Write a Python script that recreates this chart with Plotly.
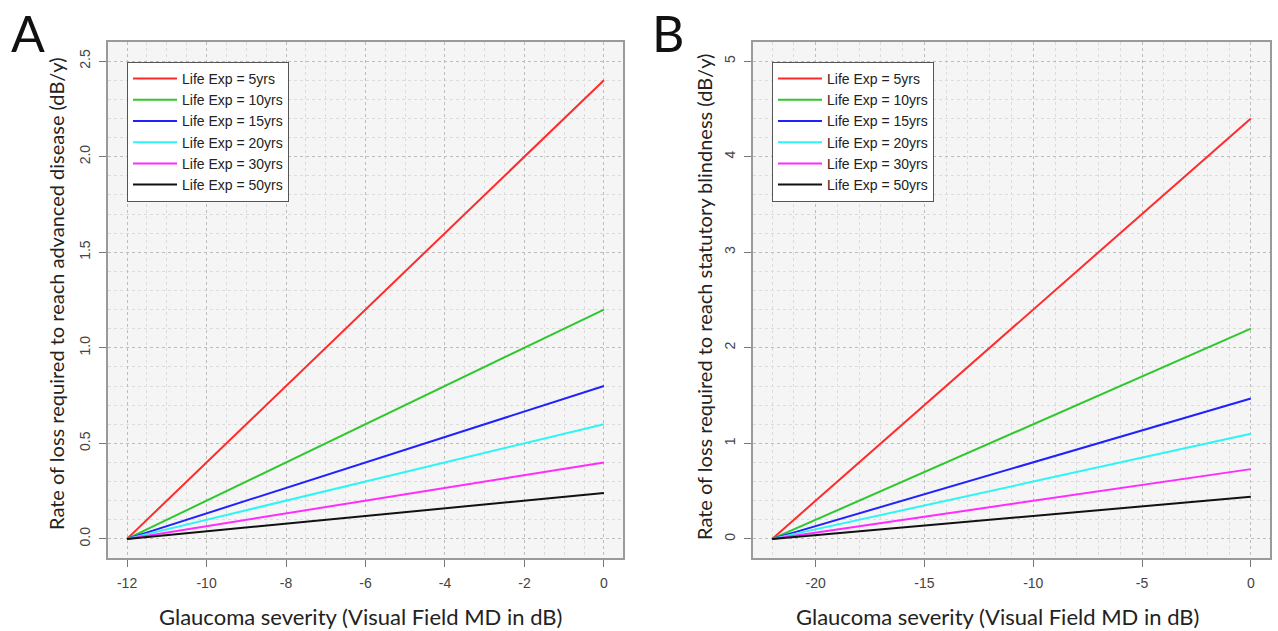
import plotly.graph_objects as go

W, H = 1278, 631

# ---- data ----
life_exp_labels = ["Life Exp = 5yrs", "Life Exp = 10yrs", "Life Exp = 15yrs",
                   "Life Exp = 20yrs", "Life Exp = 30yrs", "Life Exp = 50yrs"]
colors = ["#ff2b2b", "#2ec82e", "#2121ff", "#2ef5f5", "#ff2bff", "#111111"]

# Panel A: MD from -12 to 0
md_A = [-12, 0]
rate_A_end = [2.4, 1.2, 0.8, 0.6, 0.4, 0.24]
# Panel B: MD from -22 to 0
md_B = [-22, 0]
rate_B_end = [4.4, 2.2, 1.47, 1.1, 0.73, 0.44]

xticks_A = [-12, -10, -8, -6, -4, -2, 0]
xtick_text_A = ["-12", "-10", "-8", "-6", "-4", "-2", "0"]
yticks_A = [0.0, 0.5, 1.0, 1.5, 2.0, 2.5]
ytick_text_A = ["0.0", "0.5", "1.0", "1.5", "2.0", "2.5"]
xticks_B = [-20, -15, -10, -5, 0]
xtick_text_B = ["-20", "-15", "-10", "-5", "0"]
yticks_B = [0, 1, 2, 3, 4, 5]
ytick_text_B = ["0", "1", "2", "3", "4", "5"]

ytitle_A = "Rate of loss required to reach advanced disease (dB/y)"
ytitle_B = "Rate of loss required to reach statutory blindness (dB/y)"
xtitle = "Glaucoma severity (Visual Field MD in dB)"

fig = go.Figure()
for lab, col, v in zip(life_exp_labels, colors, rate_A_end):
    fig.add_trace(go.Scatter(x=md_A, y=[0, v], mode="lines", name=lab,
                             line=dict(color=col, width=2), xaxis="x", yaxis="y",
                             legend="legend"))
for lab, col, v in zip(life_exp_labels, colors, rate_B_end):
    fig.add_trace(go.Scatter(x=md_B, y=[0, v], mode="lines", name=lab,
                             line=dict(color=col, width=2), xaxis="x2", yaxis="y2",
                             legend="legend2"))

def px_x(p):
    return p / W

def px_y(p):
    return 1 - p / H

tickfont = dict(family="Liberation Sans, Arial, sans-serif", size=14, color="#444444")

def axis_common():
    return dict(showline=True, mirror=True, linecolor="#9a9a9a", linewidth=1.5,
                ticks="outside", ticklen=7, tickcolor="#777777", tickwidth=1,
                showgrid=True, gridcolor="#bdbdbd", griddash="dot", gridwidth=1,
                zeroline=False, tickfont=tickfont, fixedrange=True)

def minor(dt):
    return dict(tickmode="linear", tick0=0, dtick=dt, showgrid=True,
                gridcolor="#dcdcdc", griddash="dot", gridwidth=1, ticks="")

legfont = dict(family="Liberation Sans, Arial, sans-serif", size=14, color="#222222")
yA_dom = [px_y(558), px_y(42)]
fig.update_layout(
    width=W, height=H, margin=dict(l=0, r=0, t=0, b=0),
    paper_bgcolor="white", plot_bgcolor="#f5f5f5", showlegend=True,
    xaxis=dict(domain=[px_x(108), px_x(623)], range=[-12.48, 0.48], anchor="y",
               tickmode="array", tickvals=xticks_A, ticktext=xtick_text_A,
               ticklabelstandoff=4, minor=minor(0.5), **axis_common()),
    yaxis=dict(domain=yA_dom, range=[-0.1, 2.6], anchor="x",
               tickmode="array", tickvals=yticks_A, ticktext=ytick_text_A,
               tickangle=-90, ticklabelstandoff=4, minor=minor(0.1), **axis_common()),
    xaxis2=dict(domain=[px_x(753), px_x(1270)], range=[-22.88, 0.88], anchor="y2",
                tickmode="array", tickvals=xticks_B, ticktext=xtick_text_B,
                ticklabelstandoff=4, minor=minor(1), **axis_common()),
    yaxis2=dict(domain=yA_dom, range=[-0.2, 5.2], anchor="x2",
                tickmode="array", tickvals=yticks_B, ticktext=ytick_text_B,
                tickangle=-90, ticklabelstandoff=4, minor=minor(0.2), **axis_common()),
    legend=dict(x=px_x(127), y=px_y(62), xanchor="left", yanchor="top",
                bgcolor="white", bordercolor="#555555", borderwidth=1,
                font=legfont, tracegroupgap=0, itemwidth=44),
    legend2=dict(x=px_x(772), y=px_y(62), xanchor="left", yanchor="top",
                 bgcolor="white", bordercolor="#555555", borderwidth=1,
                 font=legfont, tracegroupgap=0, itemwidth=44),
)

ytitlefont = dict(family="Lato, Open Sans, sans-serif", size=20, color="#222222")
xtitlefont = dict(family="Lato, Open Sans, sans-serif", size=22, color="#222222")
ann = [
    dict(text=xtitle, x=px_x(360), y=px_y(616), font=xtitlefont),
    dict(text=xtitle, x=px_x(997), y=px_y(616), font=xtitlefont),
    dict(text=ytitle_A, x=px_x(56), y=px_y(294), textangle=-90, font=ytitlefont),
    dict(text=ytitle_B, x=px_x(704), y=px_y(297), textangle=-90, font=ytitlefont),
]
for a in ann:
    fig.add_annotation(xref="paper", yref="paper", xanchor="center", yanchor="middle",
                       showarrow=False, **a)
for lab, cx in [("A", 28), ("B", 668)]:
    fig.add_annotation(text=lab, xref="paper", yref="paper", x=px_x(cx), y=px_y(33),
                       xanchor="center", yanchor="middle", showarrow=False,
                       font=dict(family="Lato, Open Sans, sans-serif", size=50, color="#111111"))

fig.write_html("out.html", config={"displayModeBar": False},
               post_script="document.body.style.margin='0';document.body.style.overflow='hidden';")
